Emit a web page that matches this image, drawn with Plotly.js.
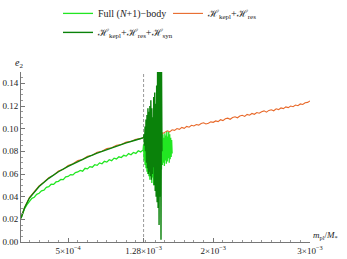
<!DOCTYPE html>
<html>
<head>
<meta charset="utf-8">
<script src="https://cdn.plot.ly/plotly-3.0.1.min.js"></script>
<style>html,body{margin:0;padding:0;background:#fff;}#chart{width:347px;height:259px;}</style>
</head>
<body>
<div id="chart"></div>
<script>
// x in units of 1e-3 (m_pl / M_*)
var xFull = [0.013,0.025,0.05,0.075,0.1,0.125,0.15,0.175,0.2,0.225,0.25,0.275,0.3,0.325,0.35,0.375,0.4,0.425,0.45,0.475,0.5,0.525,0.55,0.575,0.6,0.625,0.65,0.675,0.7,0.725,0.75,0.775,0.8,0.825,0.85,0.875,0.9,0.925,0.95,0.975,1.0,1.025,1.05,1.075,1.1,1.125,1.15,1.175,1.2,1.225,1.25,1.275,
 1.28,1.285,1.29,1.295,1.30,1.305,1.31,1.315,1.32,1.325,1.33,1.335,1.34,1.345,1.35,1.355,1.36,1.365,1.37,1.375,1.38,1.385,1.39,1.395,1.40,1.405,1.41,1.415,1.42,1.425,1.43,1.435,1.44,1.445,1.45,1.455,1.46,1.465,1.47,1.475,1.48,1.485,1.49,1.495,1.50,1.505,1.51,1.515,1.52,1.525,1.53,1.535,1.54,1.545,1.55,1.555,1.56,1.565,1.57,1.575];
var eFull = [0.021,0.0240,0.0295,0.0330,0.0355,0.0385,0.0395,0.0420,0.0430,0.0452,0.0458,0.0482,0.0488,0.0510,0.0508,0.0530,0.0535,0.0552,0.0550,0.0575,0.0578,0.0595,0.0592,0.0612,0.0618,0.0632,0.0625,0.0650,0.0645,0.0665,0.0660,0.0682,0.0676,0.0698,0.0690,0.0712,0.0705,0.0726,0.0718,0.0740,0.0733,0.0752,0.0745,0.0765,0.0758,0.0780,0.0770,0.0790,0.0782,0.0805,0.0795,0.0812,
 0.086,0.072,0.090,0.068,0.093,0.065,0.095,0.062,0.097,0.060,0.094,0.058,0.098,0.055,0.096,0.060,0.100,0.052,0.097,0.057,0.099,0.050,0.095,0.056,0.101,0.054,0.096,0.060,0.098,0.058,0.094,0.063,0.099,0.061,0.096,0.066,0.093,0.064,0.097,0.068,0.095,0.070,0.092,0.067,0.096,0.072,0.094,0.069,0.098,0.071,0.093,0.074,0.097,0.070,0.095,0.073,0.092,0.075,0.090,0.078];

var xRes = [0.013,0.025,0.05,0.1,0.15,0.2,0.25,0.3,0.35,0.4,0.45,0.5,0.55,0.6,0.65,0.7,0.75,0.8,0.85,0.9,0.95,1.0,1.05,1.1,1.15,1.2,1.25,1.3,
 1.325,1.35,1.375,1.4,1.425,1.45,1.475,1.5,1.525,1.55,1.575,1.6,1.625,1.65,1.675,1.7,1.725,1.75,1.775,1.8,1.825,1.85,1.875,1.9,1.925,1.95,1.975,2.0,2.025,2.05,2.075,2.1,2.125,2.15,2.175,2.2,2.225,2.25,2.275,2.3,2.325,2.35,2.375,2.4,2.425,2.45,2.475,2.5,2.525,2.55,2.575,2.6,2.625,2.65,2.675,2.7,2.725,2.75,2.775,2.8,2.825,2.85,2.875,2.9,2.925,2.95,2.975,3.0];
var eRes = [0.021,0.0245,0.0305,0.0392,0.0448,0.0495,0.0528,0.0568,0.0590,0.0626,0.0641,0.0676,0.0690,0.0718,0.0728,0.0757,0.0765,0.0792,0.0800,0.0824,0.0831,0.0853,0.0860,0.0881,0.0887,0.0906,0.0912,0.0928,
 0.0941,0.0933,0.0946,0.0952,0.0945,0.0962,0.0955,0.0970,0.0981,0.0972,0.0990,0.0985,0.1001,0.0994,0.1011,0.1003,0.1020,0.1013,0.1030,0.1024,0.1037,0.1031,0.1046,0.1052,0.1041,0.1047,0.1060,0.1056,0.1068,0.1062,0.1079,0.1071,0.1087,0.1093,0.1083,0.1098,0.1105,0.1096,0.1112,0.1118,0.1108,0.1126,0.1119,0.1134,0.1127,0.1142,0.1136,0.1150,0.1157,0.1146,0.1161,0.1167,0.1158,0.1175,0.1168,0.1183,0.1177,0.1192,0.1186,0.1200,0.1194,0.1209,0.1203,0.1218,0.1213,0.1228,0.1232,0.1245];

var xSyn = [0.013,0.025,0.05,0.1,0.15,0.2,0.3,0.4,0.5,0.6,0.7,0.8,0.9,1.0,1.1,1.2,1.28,
 1.285,1.29,1.295,1.30,1.305,1.31,1.315,1.32,1.325,1.33,1.335,1.34,1.345,1.35,1.355,1.36,1.365,1.37,1.375,1.38,1.385,1.39,1.395,1.40,1.405,1.41,1.415,1.42,1.425,1.43,1.435,1.44,1.445,1.45,1.455,1.46,1.465,1.47];
var eSyn = [0.021,0.0243,0.0303,0.0388,0.0444,0.0490,0.0562,0.0620,0.0668,0.0711,0.0749,0.0784,0.0816,0.0846,0.0874,0.0900,0.0920,
 0.095,0.085,0.102,0.080,0.108,0.070,0.112,0.065,0.118,0.060,0.115,0.062,0.120,0.058,0.125,0.055,0.118,0.060,0.110,0.066,0.128,0.050,0.132,0.045,0.122,0.040,0.138,0.035,0.160,0.030,0.160,0.015,0.155,0.040,0.160,0.002,0.160,0.080];

var resonanceX = 1.28;
var xTickVals = [0.5, 1.28, 2, 3];
var xTickText = ['5×10<sup>−4</sup>', '1.28×10<sup>−3</sup>', '2×10<sup>−3</sup>', '3×10<sup>−3</sup>'];
var yTickVals = [0, 0.02, 0.04, 0.06, 0.08, 0.10, 0.12, 0.14];

var serif = 'Liberation Serif, DejaVu Serif, serif';
var traces = [
  {x: xFull, y: eFull, type: 'scatter', mode: 'lines', name: 'Full (<i>N</i>+1)−body',
   line: {color: '#22e622', width: 1.3}},
  {x: xRes, y: eRes, type: 'scatter', mode: 'lines', name: 'ℋ<sub>kepl</sub>+ℋ<sub>res</sub>',
   line: {color: '#e8692a', width: 1.1}},
  {x: xSyn, y: eSyn, type: 'scatter', mode: 'lines', name: 'ℋ<sub>kepl</sub>+ℋ<sub>res</sub>+ℋ<sub>syn</sub>',
   line: {color: '#0a820a', width: 1.4}}
];

var layout = {
  width: 347, height: 259,
  margin: {l: 21, r: 37, t: 72, b: 17, pad: 0, autoexpand: false},
  paper_bgcolor: '#fff', plot_bgcolor: '#fff',
  font: {family: serif, size: 9, color: '#222'},
  showlegend: true,
  legend: {orientation: 'h', x: 0.128, xanchor: 'left', y: 1.43, yanchor: 'top',
           entrywidth: 65, entrywidthmode: 'pixels', itemwidth: 30,
           font: {family: serif, size: 10, color: '#222'}, bgcolor: 'rgba(0,0,0,0)',
           traceorder: 'normal', tracegroupgap: 0},
  xaxis: {range: [0.013, 3.0], tickvals: xTickVals, ticktext: xTickText,
          showgrid: false, zeroline: false, showline: true, linecolor: '#777', linewidth: 1,
          ticks: 'inside', ticklen: 4, tickcolor: '#777', mirror: false,
          tickfont: {family: serif, size: 9, color: '#222'},
          minor: {dtick: 0.1, tick0: 0, ticks: 'inside', ticklen: 2, tickcolor: '#999', showgrid: false}},
  yaxis: {range: [0, 0.15], tickvals: yTickVals, tickformat: '.2f',
          showgrid: false, zeroline: false, showline: true, linecolor: '#777', linewidth: 1,
          ticks: 'inside', ticklen: 4, tickcolor: '#777', mirror: false,
          tickfont: {family: serif, size: 9, color: '#222'},
          minor: {dtick: 0.005, tick0: 0, ticks: 'inside', ticklen: 2, tickcolor: '#999', showgrid: false}},
  shapes: [{type: 'line', xref: 'x', yref: 'paper', x0: resonanceX, x1: resonanceX, y0: 0, y1: 1,
            line: {color: '#999', width: 1, dash: '3px,2px'}, layer: 'below'}],
  annotations: [
    {text: '<i>e</i><sub>2</sub>', xref: 'paper', yref: 'paper', x: -0.007, y: 1.05,
     xanchor: 'center', yanchor: 'middle', showarrow: false, font: {family: serif, size: 10, color: '#222'}},
    {text: '<i>m</i><sub>pl</sub>/<i>M</i><sub>*</sub>', xref: 'paper', yref: 'paper', x: 1.005, y: 0.04,
     xanchor: 'left', yanchor: 'middle', showarrow: false, font: {family: serif, size: 9, color: '#222'}}
  ]
};

Plotly.newPlot('chart', traces, layout, {displayModeBar: false, staticPlot: true});
</script>
</body>
</html>
